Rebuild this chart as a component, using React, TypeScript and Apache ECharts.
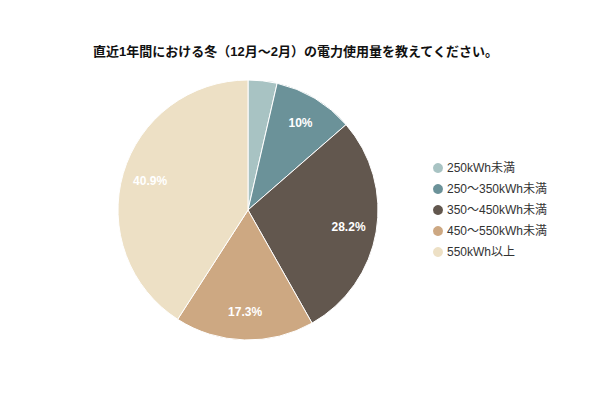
import React, { useEffect, useRef } from "react";
import * as echarts from "echarts";

const titleText = "直近1年間における冬（12月〜2月）の電力使用量を教えてください。";
const categories = ["250kWh未満", "250〜350kWh未満", "350〜450kWh未満", "450〜550kWh未満", "550kWh以上"];
const values = [3.6, 10, 28.2, 17.3, 40.9];
const colors = ["#a8c3c3", "#6b9299", "#62574e", "#cda882", "#ede0c5"];
const labelTexts = ["", "10%", "28.2%", "17.3%", "40.9%"];

export default function App() {
  const ref = useRef<HTMLDivElement>(null);
  useEffect(() => {
    if (!ref.current) return;
    const chart = echarts.init(ref.current, null, { renderer: "svg" });
    const cx = 248;
    const cy = 210;
    chart.setOption({
      animation: false,
      backgroundColor: "#ffffff",
      title: {
        text: titleText,
        left: 88,
        top: 40,
        textStyle: {
          fontSize: 13,
          fontWeight: "bold",
          color: "#111",
          fontFamily: "'Liberation Sans', 'Noto Sans CJK JP', sans-serif",
        },
      },
      color: colors,
      legend: {
        orient: "vertical",
        left: 426,
        top: 156,
        icon: "circle",
        itemWidth: 12,
        itemHeight: 12,
        itemGap: 7,
        data: categories,
        textStyle: {
          fontSize: 12,
          lineHeight: 12,
          color: "#333",
          fontFamily: "'Liberation Sans', 'Noto Sans CJK JP', sans-serif",
          padding: [0, 0, 0, -2],
        },
      },
      series: [
        {
          type: "pie",
          center: [cx, cy],
          radius: [0, 130],
          startAngle: 90,
          clockwise: true,
          label: { show: false },
          labelLine: { show: false },
          emphasis: { disabled: true },
          itemStyle: { borderColor: "#ffffff", borderWidth: 1 },
          data: categories.map((c, i) => ({ name: c, value: values[i] })),
        },
        {
          type: "pie",
          center: [cx, cy],
          radius: [68, 130],
          startAngle: 90,
          clockwise: true,
          silent: true,
          legendHoverLink: false,
          emphasis: { disabled: true },
          itemStyle: { color: "rgba(0,0,0,0)", borderWidth: 0 },
          labelLine: { show: false },
          label: {
            show: true,
            position: "inside",
            color: "#ffffff",
            fontSize: 12,
            fontWeight: "bold",
            fontFamily: "'Liberation Sans', Arial, sans-serif",
            formatter: (p: any) => labelTexts[p.dataIndex],
          },
          data: categories.map((c, i) => ({ name: c + " ", value: values[i] })),
        },
      ],
    });
    return () => chart.dispose();
  }, []);
  return <div ref={ref} style={{ position: "absolute", left: 0, top: 0, width: 600, height: 400 }} />;
}
